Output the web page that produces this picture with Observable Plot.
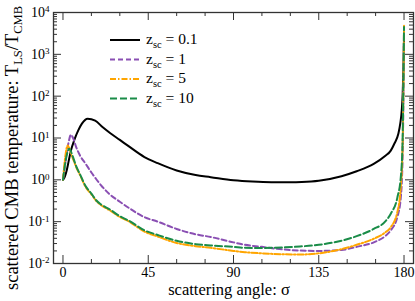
<!DOCTYPE html>
<html><head><meta charset="utf-8">
<script src="https://cdn.jsdelivr.net/npm/d3@7"></script>
<script src="https://cdn.jsdelivr.net/npm/@observablehq/plot@0.6"></script>
<style>body{margin:0;background:#fff}</style>
</head><body><div id="chart"></div>
<script>
// series labels (z_sc values) and styling
const zValues = ["0.1", "1", "5", "10"];
const colors = ["#000000", "#8a4fb3", "#ffa500", "#1a8c48"];
const dashes = [null, "5,3", "6,2,1.5,2", "7,3"];

// z_sc = 0.1
const xA = [0, 1, 2, 3, 4.2, 6, 8, 10, 13, 17, 21, 25, 30, 35, 43, 50, 60, 70, 78, 90, 100, 110, 120, 126, 135, 147, 155, 164, 170, 173, 175, 177, 178, 178.8, 179.3, 179.7, 180];
const yA = [1, 1.2, 1.7, 2.8, 5, 9, 15, 22, 29, 26, 18, 13, 9, 6.2, 3.5, 2.5, 1.67, 1.3, 1.16, 0.98, 0.91, 0.88, 0.88, 0.89, 0.95, 1.22, 1.6, 2.4, 3.7, 5, 7.5, 12.6, 22, 46, 115, 500, 2500];
// z_sc = 1
const xB = [0, 1, 2, 3, 4.2, 5.5, 7, 9, 12, 15, 17.4, 20, 24.4, 30, 35, 43, 50, 60, 70, 78, 90, 96, 105, 113, 125, 135, 147, 155, 164, 170, 173, 176.5, 178.3, 179.2, 179.7, 180];
const yB = [1, 2.2, 4.5, 8, 12, 9.5, 6, 3.8, 2.4, 1.5, 1.06, 0.75, 0.46, 0.3, 0.21, 0.128, 0.1, 0.067, 0.05, 0.043, 0.032, 0.028, 0.025, 0.0224, 0.0204, 0.02, 0.021, 0.025, 0.032, 0.045, 0.062, 0.13, 0.38, 2.9, 100, 3500];
// z_sc = 5
const xC = [0, 1, 2.5, 4, 5.5, 7, 9, 12, 15, 17.4, 20, 24.4, 30, 35, 43, 50, 60, 70, 78, 90, 96, 105, 110, 125, 135, 147, 155, 164, 170, 173, 176.5, 178.3, 179.2, 179.7, 180];
const yC = [1, 3, 6.6, 4.6, 3, 2, 1.3, 0.67, 0.45, 0.32, 0.25, 0.19, 0.13, 0.1, 0.058, 0.044, 0.031, 0.026, 0.0237, 0.02, 0.0186, 0.0175, 0.017, 0.0164, 0.0175, 0.022, 0.028, 0.039, 0.055, 0.074, 0.17, 0.7, 5, 200, 4800];
// z_sc = 10
const xD = [0, 1.5, 3.3, 5, 7, 9, 12, 15, 17.4, 20, 24.4, 30, 35, 43, 50, 60, 70, 78, 90, 96, 105, 110, 125, 135, 147, 155, 164, 170, 173, 176.5, 178.3, 179.2, 179.7, 180];
const yD = [1, 3, 5.5, 3.8, 2.1, 1.35, 0.7, 0.47, 0.33, 0.26, 0.2, 0.135, 0.104, 0.062, 0.048, 0.035, 0.029, 0.027, 0.025, 0.0237, 0.0235, 0.0237, 0.0255, 0.028, 0.035, 0.045, 0.067, 0.1, 0.155, 0.38, 1.16, 7.2, 280, 4500];

// ticks
const xTicks = [0, 45, 90, 135, 180];
const xMinorTicks = [15, 30, 60, 75, 105, 120, 150, 165];
const yTicks = [1e-2, 1e-1, 1, 10, 100, 1000, 1e4];
const yMinorMultipliers = [2, 3, 4, 5, 6, 7, 8, 9];
const yMinorTicks = yTicks.slice(0, -1).flatMap(d => yMinorMultipliers.map(m => d * m));

const xs = [xA, xB, xC, xD], ys = [yA, yB, yC, yD];
const rows = xs.map((xx, s) => xx.map((x, i) => ({s, x, y: ys[s][i]})));

const W = 415, H = 301, mL = 53, mR = 2, mT = 12, mB = 38;
const pw = W - mL - mR, ph = H - mT - mB;
const tc = "#333";

const marks = [];
rows.forEach((data, s) => {
  marks.push(Plot.line(data, {x: "x", y: "y", stroke: colors[s], strokeWidth: 2, strokeDasharray: dashes[s] || undefined, curve: "monotone-x"}));
});
marks.push(
  Plot.ruleY(yTicks, {y: d => d, insetRight: pw - 8, stroke: tc}),
  Plot.ruleY(yTicks, {y: d => d, insetLeft: pw - 8, stroke: tc}),
  Plot.ruleY(yMinorTicks, {y: d => d, insetRight: pw - 4, stroke: tc}),
  Plot.ruleY(yMinorTicks, {y: d => d, insetLeft: pw - 4, stroke: tc}),
  Plot.ruleX(xTicks, {x: d => d, insetTop: ph - 8, stroke: tc}),
  Plot.ruleX(xTicks, {x: d => d, insetBottom: ph - 8, stroke: tc}),
  Plot.ruleX(xMinorTicks, {x: d => d, insetTop: ph - 4, stroke: tc}),
  Plot.ruleX(xMinorTicks, {x: d => d, insetBottom: ph - 4, stroke: tc}),
  Plot.frame({stroke: tc, strokeWidth: 1.3}),
  Plot.axisX({ticks: xTicks, tickSize: 0, tickPadding: 4, label: null, tickFormat: d => String(d)}),
  Plot.axisY({ticks: yTicks, tickSize: 0, tickPadding: 4, label: null, tickFormat: d => String(Math.round(Math.log10(d)))})
);

const plot = Plot.plot({
  width: W, height: H,
  marginLeft: mL, marginRight: mR, marginTop: mT, marginBottom: mB,
  style: {fontFamily: "'Liberation Serif', 'Times New Roman', serif", fontSize: "14px", background: "white", color: "black"},
  x: {domain: [-5, 185]},
  y: {type: "log", domain: [1e-2, 1e4]},
  marks
});
document.getElementById("chart").appendChild(plot);

const svg = d3.select(plot);
// superscript exponents on y tick labels
svg.selectAll('g[aria-label="y-axis tick label"] text').each(function() {
  const e = this.textContent;
  const t = d3.select(this);
  t.text("10");
  t.append("tspan").attr("dy", "-0.5em").attr("font-size", "9px").text(e);
});

const font = "'Liberation Serif', 'Times New Roman', serif";
// x axis label
svg.append("text").attr("x", 229).attr("y", 295).attr("text-anchor", "middle")
  .attr("font-family", font).attr("font-size", "16.5px").attr("fill", "black")
  .text("scattering angle: σ");
// y axis label
const yl = svg.append("text").attr("transform", "translate(18,148) rotate(-90)")
  .attr("text-anchor", "middle").attr("font-family", font).attr("font-size", "18.5px").attr("fill", "black");
yl.append("tspan").text("scattered CMB temperature: T");
yl.append("tspan").attr("font-size", "12.5px").attr("dy", "4").text("LS");
yl.append("tspan").attr("dy", "-4").text("/T");
yl.append("tspan").attr("font-size", "12.5px").attr("dy", "4").text("CMB");

// legend
const lg = svg.append("g").attr("text-anchor", "start");
zValues.forEach((v, i) => {
  const y = 40 + 19.5 * i;
  lg.append("line").attr("x1", 110).attr("x2", 140).attr("y1", y).attr("y2", y)
    .attr("stroke", colors[i]).attr("stroke-width", 2)
    .attr("stroke-dasharray", dashes[i] || null);
  const t = lg.append("text").attr("x", 146).attr("y", y + 4).attr("text-anchor", "start")
    .attr("font-family", font).attr("font-size", "15.5px").attr("fill", "black");
  t.append("tspan").text("z");
  t.append("tspan").attr("font-size", "10.5px").attr("dy", "4").text("sc");
  t.append("tspan").attr("dy", "-4").text(" = " + v);
});
</script></body></html>
